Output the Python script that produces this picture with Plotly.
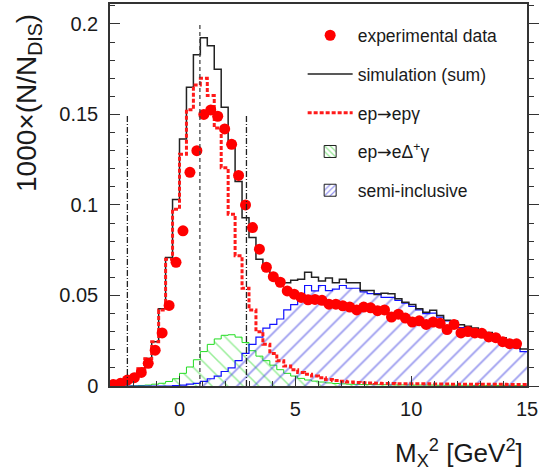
import plotly.graph_objects as go

# ---------------- data ----------------
# histogram binning in M_X^2 [GeV^2]: 60 bins of 0.3 from -3 to 15
bin_low = -3.0
bin_width = 0.3
n_bins = 60

# experimental data (red circles), one value per bin (last bin empty)
data_vals = [0.0008, 0.0015, 0.0033, 0.0046, 0.0075, 0.0125, 0.0198, 0.0293, 0.0445, 0.0683,
             0.0857, 0.118, 0.130, 0.150, 0.1525, 0.149, 0.142, 0.1335, 0.1163, 0.100,
             0.0875, 0.0756, 0.0656, 0.0604, 0.0573, 0.0525, 0.0507, 0.0489, 0.0476, 0.0478,
             0.0473, 0.0452, 0.0452, 0.0443, 0.0436, 0.042, 0.0436, 0.0432, 0.0416, 0.042,
             0.0381, 0.0397, 0.0375, 0.0353, 0.036, 0.034, 0.0353, 0.0346, 0.0312, 0.034,
             0.0293, 0.0301, 0.0293, 0.0291, 0.0271, 0.0267, 0.0245, 0.0234, 0.0233, None]

# simulation (sum), black histogram
sim_sum = [0.0005, 0.0013, 0.0027, 0.0055, 0.0097, 0.0152, 0.0244, 0.0427, 0.071, 0.103,
           0.1365, 0.165, 0.183, 0.1923, 0.188, 0.175, 0.154, 0.135, 0.113, 0.093,
           0.082, 0.070, 0.0656, 0.060, 0.058, 0.057, 0.0584, 0.059, 0.0628, 0.060,
           0.058, 0.0597, 0.057, 0.059, 0.057, 0.057, 0.0527, 0.0527, 0.0505, 0.0513,
           0.0509, 0.0482, 0.0463, 0.045, 0.0427, 0.0408, 0.0418, 0.039, 0.0363, 0.0359,
           0.0338, 0.033, 0.032, 0.0305, 0.0295, 0.0277, 0.0267, 0.0252, 0.0225, 0.0205]

# ep -> ep gamma (red dashed)
bh_vals = [0.0004, 0.001, 0.0024, 0.005, 0.0095, 0.015, 0.0244, 0.042, 0.070, 0.0976,
           0.128, 0.1526, 0.1663, 0.170, 0.1604, 0.1425, 0.1205, 0.0949, 0.072, 0.054,
           0.042, 0.030, 0.023, 0.018, 0.014, 0.011, 0.009, 0.0075, 0.0065, 0.0055,
           0.0045, 0.0036, 0.003, 0.0026, 0.0022, 0.002, 0.0018, 0.0016, 0.0015, 0.0014,
           0.0014, 0.0013, 0.0013, 0.0012, 0.0012, 0.0012, 0.0011, 0.0011, 0.0011, 0.001,
           0.001, 0.001, 0.001, 0.0009, 0.0009, 0.0009, 0.0009, 0.0008, 0.0008, 0.0008]

# ep -> e Delta+ gamma (green hatched)
delta_vals = [0.0, 0.0, 0.0, 0.0001, 0.0003, 0.0005, 0.001, 0.0015, 0.0025, 0.004,
              0.007, 0.0105, 0.0145, 0.019, 0.023, 0.026, 0.028, 0.0283, 0.027, 0.024,
              0.0195, 0.0165, 0.014, 0.0115, 0.009, 0.007, 0.0055, 0.0042, 0.0033, 0.0027,
              0.0022, 0.0017, 0.0014, 0.0012, 0.001, 0.0009, 0.0008, 0.0008, 0.0007, 0.0007,
              0.0006, 0.0006, 0.0006, 0.0005, 0.0005, 0.0005, 0.0005, 0.0004, 0.0004, 0.0004,
              0.0004, 0.0004, 0.0003, 0.0003, 0.0003, 0.0003, 0.0003, 0.0003, 0.0002, 0.0002]

# semi-inclusive (blue hatched)
si_vals = [0.0, 0.0, 0.0, 0.0, 0.0, 0.0, 0.0, 0.0, 0.0, 0.0002,
           0.0005, 0.001, 0.0015, 0.0025, 0.004, 0.0055, 0.008, 0.010, 0.014, 0.018,
           0.023, 0.027, 0.032, 0.034, 0.037, 0.042, 0.045, 0.048, 0.0555, 0.0525,
           0.0555, 0.0527, 0.0535, 0.0555, 0.054, 0.054, 0.052, 0.051, 0.051, 0.049,
           0.049, 0.0473, 0.0458, 0.044, 0.0421, 0.040, 0.0403, 0.038, 0.0359, 0.0353,
           0.0322, 0.0315, 0.0305, 0.029, 0.028, 0.0262, 0.0253, 0.0238, 0.021, 0.019]

# exclusivity cuts and proton mass squared (vertical lines)
cut_lines = [-2.25, 2.89]
cut_height = 0.15
proton_mass_sq = 0.88
proton_line_height = 0.2

x_range = [-3, 15]
y_range = [0, 0.211]
x_tickvals = [0, 5, 10, 15]
y_tickvals = [0, 0.05, 0.1, 0.15, 0.2]
y_ticktext = ["0", "0.05", "0.1", "0.15", "0.2"]

# ---------------- derived bin geometry ----------------
edges = [bin_low + bin_width * i for i in range(n_bins + 1)]
centers = [bin_low + bin_width * (i + 0.5) for i in range(n_bins)]


def step_y(vals):
    return list(vals) + [vals[-1]]


FONT = "Liberation Sans, Arial, Helvetica, sans-serif"
TXT = "#1a1a1a"
ARROW = '<span style="font-family:DejaVu Sans">→</span>'

GREEN_LINE, GREEN_HATCH = "#22dd22", "#33dd33"
BLUE_LINE, BLUE_HATCH = "#1010ff", "#3a3ae0"
green_pattern = dict(shape="\\", fgcolor=GREEN_HATCH, size=11, solidity=0.14)
blue_pattern = dict(shape="/", fgcolor=BLUE_HATCH, size=12, solidity=0.15)

fig = go.Figure()

# green hatched ep -> e Delta gamma
fig.add_trace(go.Scatter(
    x=edges, y=step_y(delta_vals), mode="lines", line=dict(shape="hv", color=GREEN_LINE, width=1),
    fill="tozeroy", fillcolor="rgba(0,0,0,0)", fillpattern=green_pattern,
    showlegend=False, hoverinfo="skip"))

# blue hatched semi-inclusive
fig.add_trace(go.Scatter(
    x=edges, y=step_y(si_vals), mode="lines", line=dict(shape="hv", color=BLUE_LINE, width=1.2),
    fill="tozeroy", fillcolor="rgba(0,0,0,0)", fillpattern=blue_pattern,
    showlegend=False, hoverinfo="skip"))

# black simulation sum
fig.add_trace(go.Scatter(
    x=edges, y=step_y(sim_sum), mode="lines", line=dict(shape="hv", color="#222222", width=1.5),
    name="simulation (sum)", legendgroup="b", legendrank=2))

# red dashed ep -> ep gamma
fig.add_trace(go.Scatter(
    x=edges, y=step_y(bh_vals), mode="lines",
    line=dict(shape="hv", color="#ff1a1a", width=3, dash="4px,2px"),
    name="ep" + ARROW + "epγ", legendgroup="r", legendrank=3))

# experimental data
fig.add_trace(go.Scatter(
    x=centers, y=data_vals, mode="markers",
    marker=dict(color="#ff0000", size=11, symbol="circle"),
    name="experimental data", legendgroup="e", legendrank=1))

# legend entries for the hatched histograms (box symbols)
fig.add_trace(go.Bar(
    x=[None], y=[None], name="ep" + ARROW + "eΔ<sup>+</sup>γ", legendgroup="d", legendrank=4,
    marker=dict(color="rgba(0,0,0,0)", pattern=dict(shape="\\", fgcolor="#22cc22", size=5, solidity=0.3),
                line=dict(color="#222222", width=1))))
fig.add_trace(go.Bar(
    x=[None], y=[None], name="semi-inclusive", legendgroup="s", legendrank=5,
    marker=dict(color="rgba(0,0,0,0)", pattern=dict(shape="/", fgcolor="#2a2ae0", size=5, solidity=0.3),
                line=dict(color="#222222", width=1))))

# dummy trace for right-hand axis
fig.add_trace(go.Scatter(x=[None], y=[None], yaxis="y2", showlegend=False, hoverinfo="skip"))

# vertical lines
for xc in cut_lines:
    fig.add_shape(type="line", xref="x", yref="y", x0=xc, x1=xc, y0=0, y1=cut_height,
                  line=dict(color="#222222", width=1.3, dash="6px,2px,1px,2px"))
fig.add_shape(type="line", xref="x", yref="y", x0=proton_mass_sq, x1=proton_mass_sq, y0=0,
              y1=proton_line_height, line=dict(color="#444444", width=1.3, dash="4px,3px"))

axis_line = dict(showline=True, linecolor="#333333", linewidth=1.5, showgrid=False, zeroline=False)

fig.update_layout(
    width=547, height=475,
    margin=dict(l=110, r=20, t=2, b=89),
    paper_bgcolor="white", plot_bgcolor="white",
    font=dict(family=FONT, color=TXT, size=20),
    barmode="overlay",
    xaxis=dict(range=x_range, tickvals=x_tickvals, ticks="inside", ticklen=10, tickwidth=1.3,
               tickcolor="#333333", mirror=True,
               minor=dict(dtick=1, ticks="inside", ticklen=5, tickcolor="#333333", tickwidth=1),
               tickfont=dict(size=20), ticklabelstandoff=4, **axis_line),
    yaxis=dict(range=y_range, tickvals=y_tickvals, ticktext=y_ticktext,
               ticks="inside", ticklen=10, tickwidth=1.3, tickcolor="#333333",
               minor=dict(dtick=0.01, ticks="inside", ticklen=5, tickcolor="#333333", tickwidth=1),
               tickfont=dict(size=20), ticklabelstandoff=6, **axis_line),
    yaxis2=dict(range=y_range, overlaying="y", side="right", anchor="x", tickvals=y_tickvals,
                ticks="outside", ticklen=10, tickwidth=1.3, tickcolor="#333333",
                showticklabels=False,
                minor=dict(dtick=0.01, ticks="outside", ticklen=5, tickcolor="#333333", tickwidth=1),
                **axis_line),
    showlegend=True,
    legend=dict(x=0.462, y=0.965, xanchor="left", yanchor="top", bgcolor="rgba(255,255,255,0)",
                font=dict(size=17.5, family=FONT, color=TXT), tracegroupgap=13,
                traceorder="grouped", itemwidth=45),
    annotations=[
        dict(text="1000×(N/N<sub>DIS</sub>)", textangle=-90, xref="paper", yref="paper",
             x=-0.195, y=0.74, xanchor="center", yanchor="middle", showarrow=False,
             font=dict(size=28, family=FONT, color=TXT)),
        dict(text="M<sub>X</sub><sup>2</sup> [GeV<sup>2</sup>]", xref="paper", yref="paper",
             x=0.995, y=-0.175, xanchor="right", yanchor="middle", showarrow=False,
             font=dict(size=26, family=FONT, color=TXT)),
    ],
)

fig.write_html("out.html")
